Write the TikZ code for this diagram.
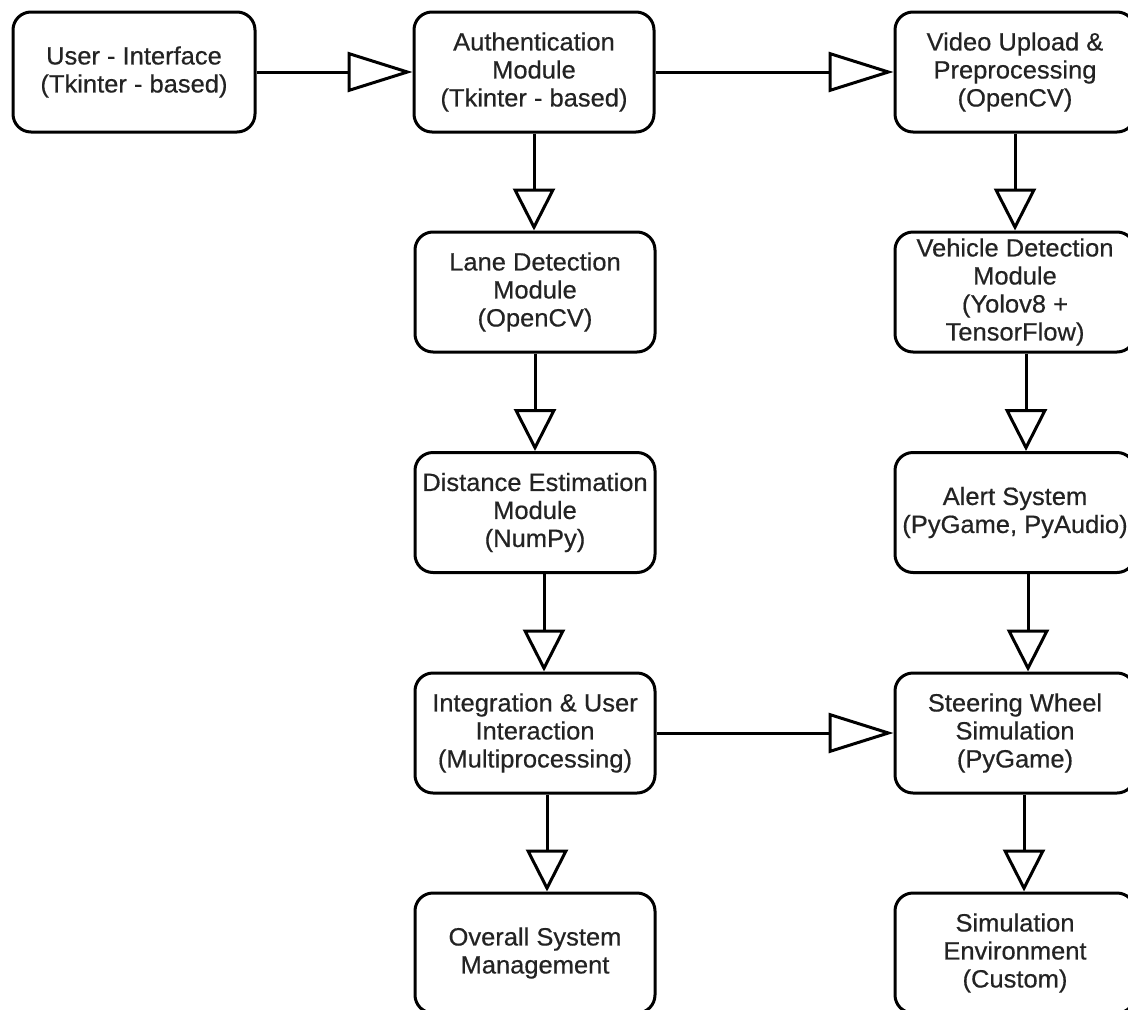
\documentclass[tikz,border=0pt]{standalone}
\usepackage{fontspec}
\setmainfont{Liberation Sans}[FakeStretch=1.02]
\newfontfamily\boxfont{Liberation Sans}[FakeStretch=1.02, FakeBold=0.5]
\usetikzlibrary{arrows.meta}
\definecolor{txt}{RGB}{35,35,35}
\begin{document}
\begin{tikzpicture}[x=1pt,y=-1pt,
  box/.style={draw=black, line width=3pt, rounded corners=18pt, minimum width=240pt, minimum height=120pt, align=center, text=txt, font=\boxfont\fontsize{25}{28}\selectfont, inner sep=0pt, fill=white},
  harr/.style={draw=black, line width=3pt, -{Triangle[open, length=65pt, width=40pt]}},
  varr/.style={draw=black, line width=3pt, -{Triangle[open, length=42pt, width=42pt]}}]
\useasboundingbox (0,0) rectangle (1128,1010);
\fill[white] (0,0) rectangle (1128,1010);
\clip (0,0) rectangle (1128,1010);

\node[box, minimum width=242pt] (ui) at (134,72) {User - Interface\\(Tkinter - based)};
\node[box] (auth) at (534,72) {Authentication\\Module\\(Tkinter - based)};
\node[box] (vid) at (1015,72) {Video Upload \&\\Preprocessing\\(OpenCV)};
\node[box] (lane) at (535,292) {Lane Detection\\Module\\(OpenCV)};
\node[box] (veh) at (1015,292) {Vehicle Detection\\Module\\(Yolov8 +\\TensorFlow)};
\node[box] (dist) at (535,512.5) {Distance Estimation\\Module\\(NumPy)};
\node[box] (alert) at (1015,512.5) {Alert System\\(PyGame, PyAudio)};
\node[box] (int) at (535,733) {Integration \& User\\Interaction\\(Multiprocessing)};
\node[box] (steer) at (1015,733) {Steering Wheel\\Simulation\\(PyGame)};
\node[box] (over) at (535,953) {Overall System\\Management};
\node[box] (sim) at (1015,953) {Simulation\\Environment\\(Custom)};

\draw[harr] (ui) -- (auth);
\draw[harr] (auth) -- (vid);
\draw[harr] (int) -- (steer);
\draw[varr] (auth.south) -- (auth.south |- lane.north);
\draw[varr] (lane.south) -- (lane.south |- dist.north);
\draw[varr] ([xshift=9pt]dist.south) -- ([xshift=9pt]int.north);
\draw[varr] ([xshift=12pt]int.south) -- ([xshift=12pt]over.north);
\draw[varr] (vid.south) -- (veh.north);
\draw[varr] ([xshift=11pt]veh.south) -- ([xshift=11pt]alert.north);
\draw[varr] ([xshift=13pt]alert.south) -- ([xshift=13pt]steer.north);
\draw[varr] ([xshift=9pt]steer.south) -- ([xshift=9pt]sim.north);
\end{tikzpicture}
\end{document}
